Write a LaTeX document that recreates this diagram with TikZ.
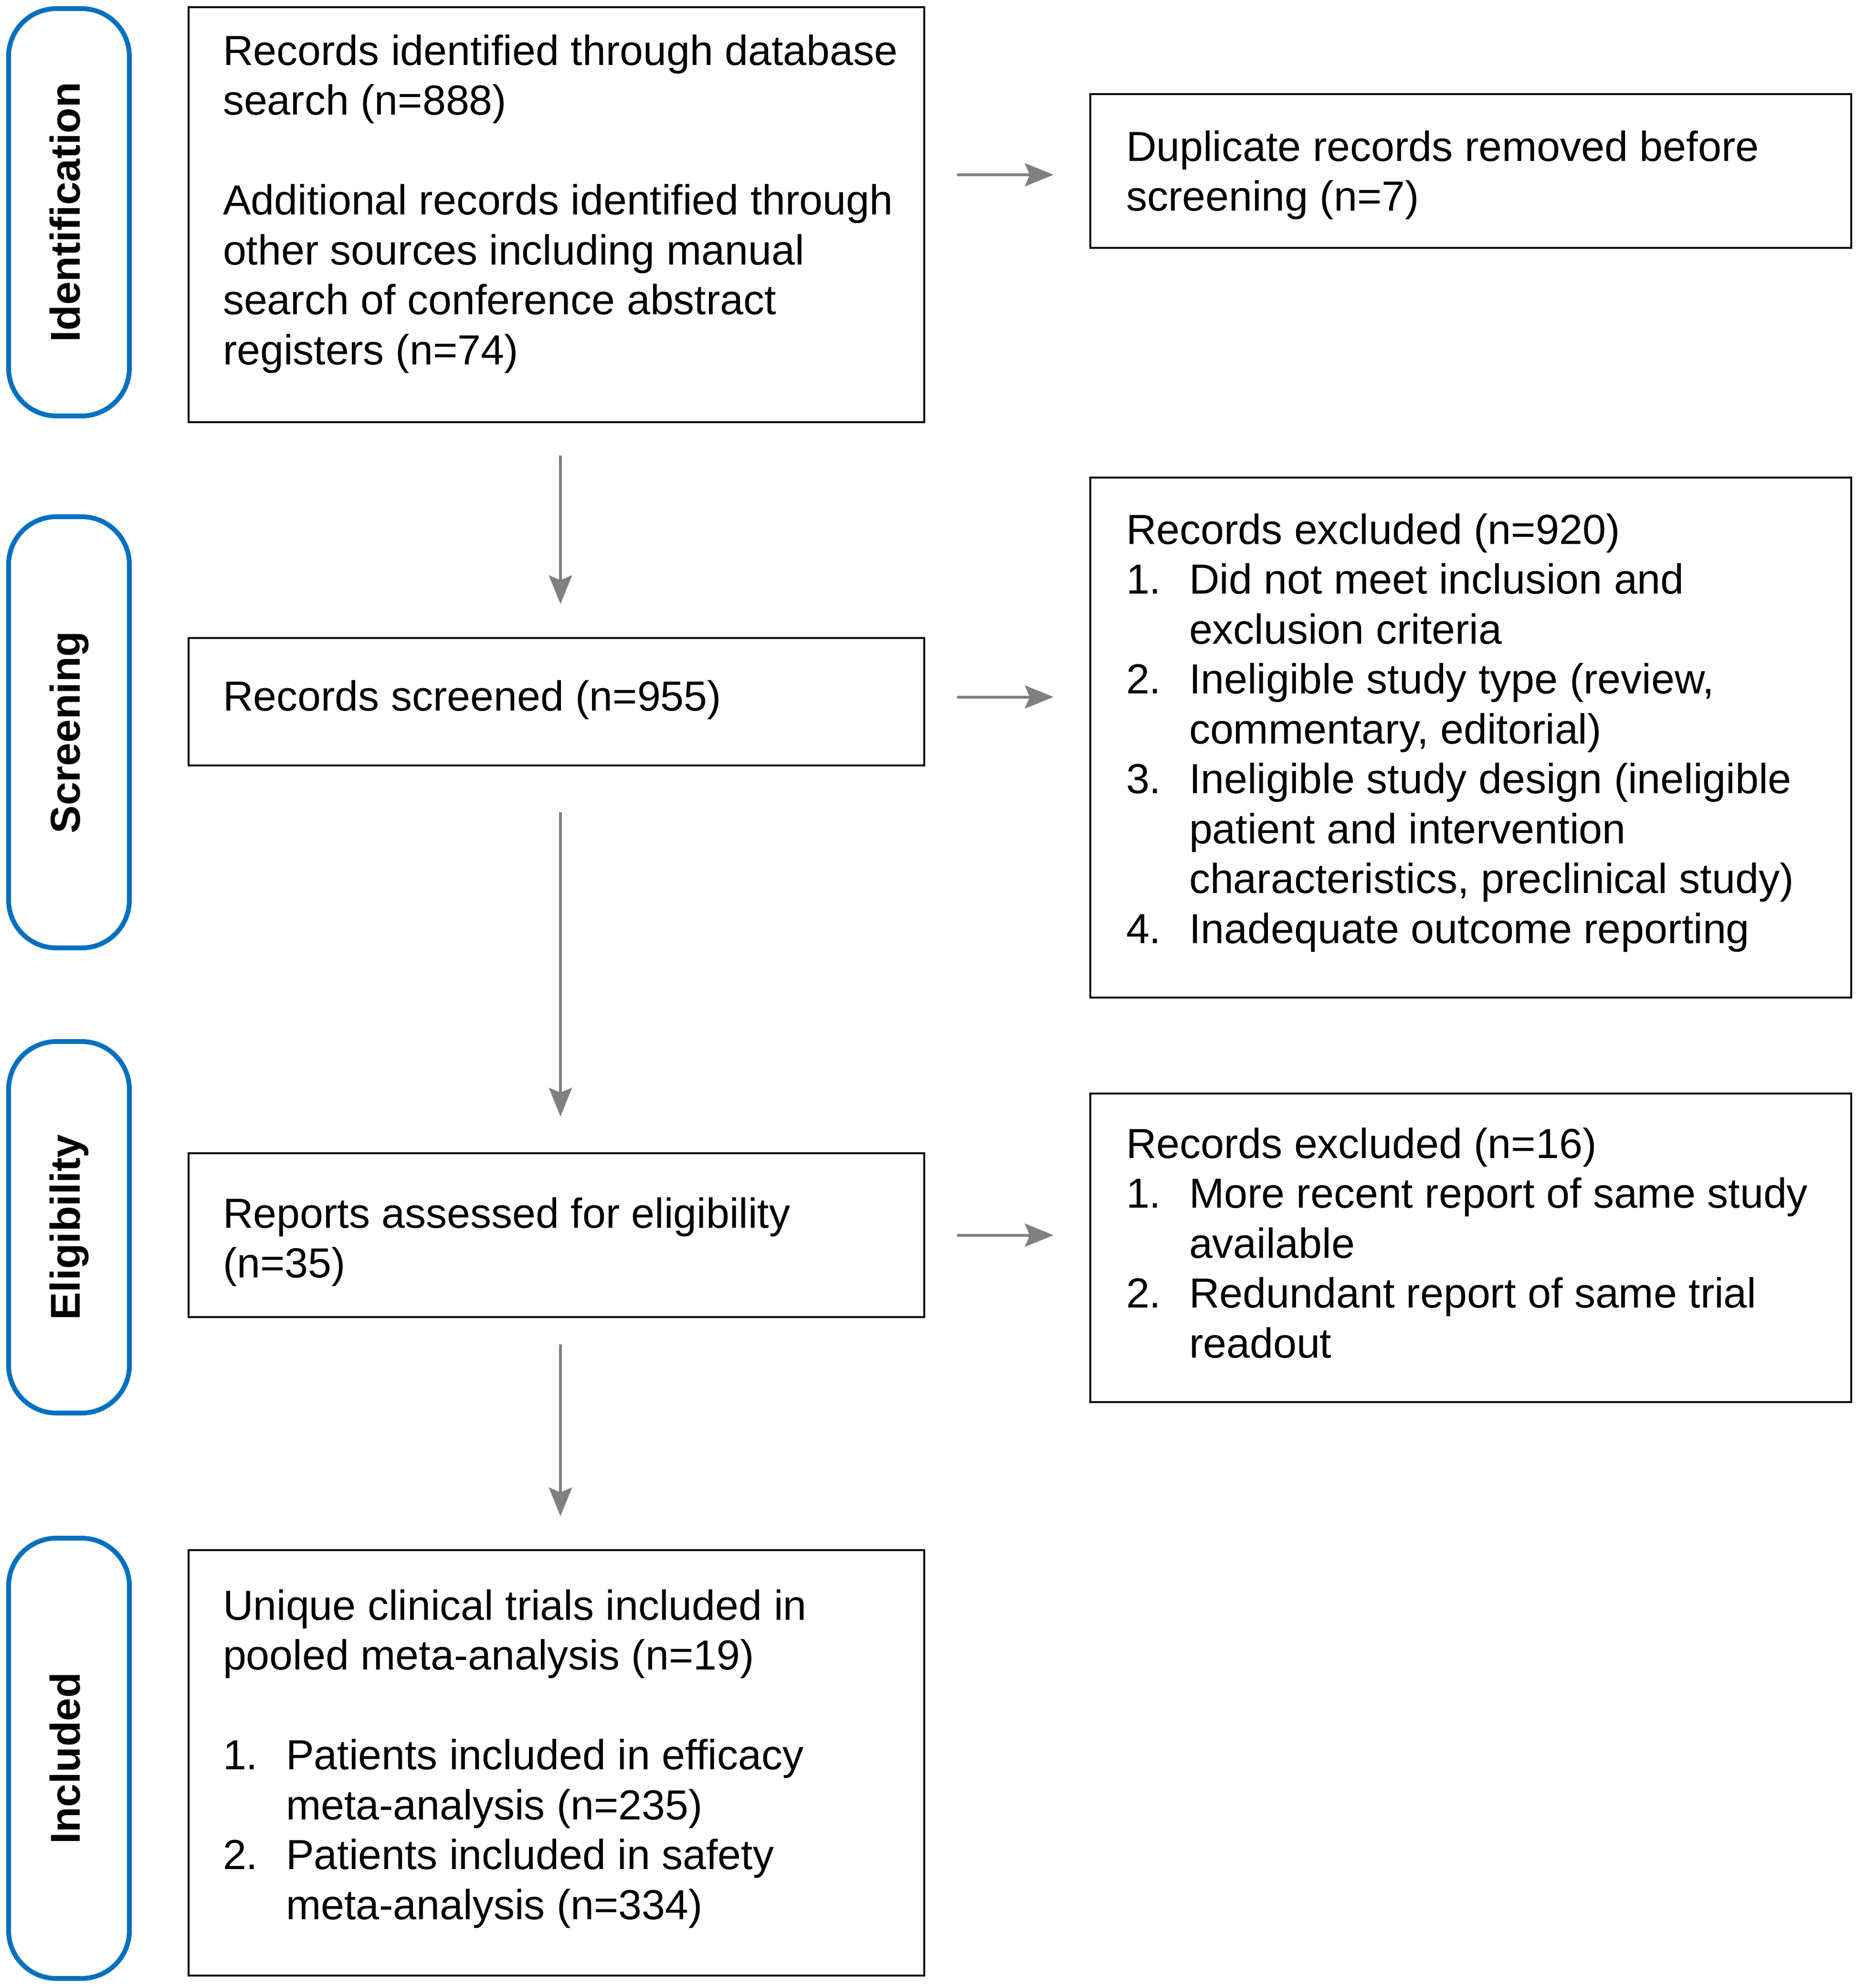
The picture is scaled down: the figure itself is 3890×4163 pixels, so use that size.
\documentclass[tikz,border=0pt]{standalone}
\usepackage{fontspec}
\setmainfont{Liberation Sans}
\usetikzlibrary{positioning,arrows.meta}
\definecolor{phaseblue}{RGB}{0,112,192}
\definecolor{arrowgray}{RGB}{128,128,128}
\newcommand{\itm}[1]{\makebox[13.2pt][l]{#1}}
\newcommand{\ind}{\hspace*{13.2pt}}

\begin{document}
\begin{tikzpicture}[x=0.1pt,y=-0.1pt,
		phase/.style={draw=phaseblue,line width=1pt,rounded corners=10pt,minimum width=25.3pt,inner sep=0pt},
		phaselabel/.style={rotate=90,anchor=base,inner sep=0pt,font=\bfseries\fontsize{8.75}{10.45}\selectfont},
		box/.style={draw=black,line width=0.4pt,inner sep=0pt},
		txt/.style={align=left,inner sep=0pt,font=\fontsize{8.8}{10.45}\selectfont},
		arr/.style={draw=arrowgray,line width=0.6pt,-{Stealth[length=6pt,width=4.8pt,inset=1pt]}}]

		\useasboundingbox (0,0) rectangle (3890,4163);

		% phases
		\node[phase,minimum height=85.3pt] (idn) at (144.5,444.5) {};
		\node[phase,minimum height=90.3pt] (scr) at (144.5,1533.5) {};
		\node[phase,minimum height=77.8pt] (elg) at (144.5,2570) {};
		\node[phase,minimum height=92.2pt] (inc) at (144.5,3682) {};
		\node[phaselabel] (idnlbl) at (168,444.5) {Identification};
		\node[phaselabel] (scrlbl) at (168,1533.5) {Screening};
		\node[phaselabel] (elglbl) at (168,2570) {Eligibility};
		\node[phaselabel] (inclbl) at (168,3682) {Included};

		% main column
		\node[box,minimum width=154.1pt,minimum height=86.9pt] (records) at (1165.5,449.5) {};
		\node[box,minimum width=154.1pt,minimum height=26.7pt] (screened) at (1165.5,1469.5) {};
		\node[box,minimum width=154.1pt,minimum height=34.3pt] (reports) at (1165.5,2586.5) {};
		\node[box,minimum width=154.1pt,minimum height=89.1pt] (included) at (1165.5,3691.5) {};

		\node[txt,right=7.2pt of records.west,yshift=2.25pt] (recordstxt) {Records identified through database\\
			search (n=888)\\[10.45pt]
			Additional records identified through\\
			other sources including manual\\
			search of conference abstract\\
			registers (n=74)};
		\node[txt,right=7.2pt of screened.west,yshift=0.4pt] (screenedtxt) {Records screened (n=955)};
		\node[txt,right=7.2pt of reports.west,yshift=-1.4pt] (reportstxt) {Reports assessed for eligibility\\(n=35)};
		\node[txt,right=7.2pt of included.west,yshift=0.85pt] (includedtxt) {Unique clinical trials included in\\
			pooled meta-analysis (n=19)\\[10.45pt]
			\itm{1.}Patients included in efficacy\\
			\ind meta-analysis (n=235)\\
			\itm{2.}Patients included in safety\\
			\ind meta-analysis (n=334)};

		% exclusions
		\node[box,minimum width=159.4pt,minimum height=32.2pt] (dup) at (3081,358) {};
		\node[box,minimum width=159.4pt,minimum height=108.9pt] (exclA) at (3081,1544.5) {};
		\node[box,minimum width=159.4pt,minimum height=64.6pt] (exclB) at (3081,2613) {};

		\node[txt,right=7.5pt of dup.west,yshift=-0.85pt] (duptxt) {Duplicate records removed before\\screening (n=7)};
		\node[txt,right=7.5pt of exclA.west,yshift=1pt] (exclAtxt) {Records excluded (n=920)\\
			\itm{1.}Did not meet inclusion and\\
			\ind exclusion criteria\\
			\itm{2.}Ineligible study type (review,\\
			\ind commentary, editorial)\\
			\itm{3.}Ineligible study design (ineligible\\
			\ind patient and intervention\\
			\ind characteristics, preclinical study)\\
			\itm{4.}Inadequate outcome reporting};
		\node[txt,right=7.5pt of exclB.west,yshift=1pt] (exclBtxt) {Records excluded (n=16)\\
			\itm{1.}More recent report of same study\\
			\ind available\\
			\itm{2.}Redundant report of same trial\\
			\ind readout};

		% arrows
		\draw[arr,shorten <=6.8pt,shorten >=6.9pt] ([xshift=0.85pt]records.south) -- ([xshift=0.85pt]screened.north);
		\draw[arr,shorten <=9.6pt,shorten >=7.5pt] ([xshift=0.85pt]screened.south) -- ([xshift=0.85pt]reports.north);
		\draw[arr,shorten <=5.5pt,shorten >=6.9pt] ([xshift=0.85pt]reports.south) -- ([xshift=0.85pt]included.north);

		\coordinate (dupin) at ([yshift=-0.8pt]dup.west);
		\coordinate (scrout) at ([yshift=1pt]screened.east);
		\draw[arr,shorten <=6.7pt,shorten >=7.5pt] (dupin -| records.east) -- (dupin);
		\draw[arr,shorten <=6.7pt,shorten >=7.5pt] (scrout) -- (scrout -| exclA.west);
		\draw[arr,shorten <=6.7pt,shorten >=7.5pt] (reports.east) -- (reports.east -| exclB.west);

\end{tikzpicture}
\end{document}
